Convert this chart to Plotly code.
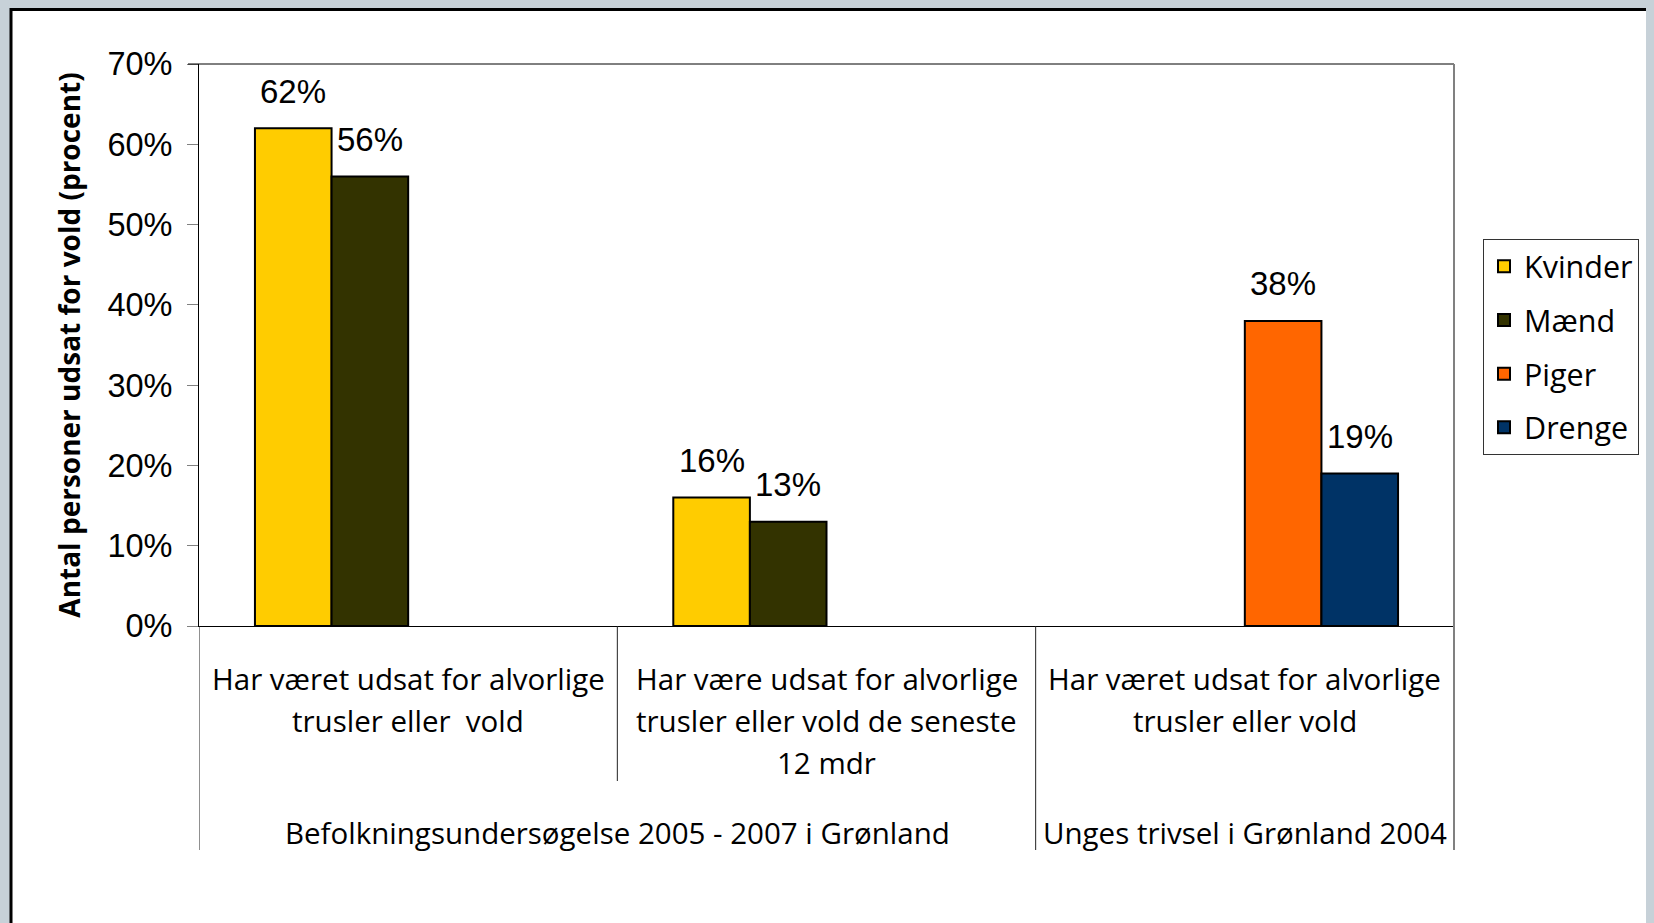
import plotly.graph_objects as go

# ---------------- data ----------------
categories = [
    "Har været udsat for alvorlige<br>trusler eller  vold",
    "Har være udsat for alvorlige<br>trusler eller vold de seneste<br>12 mdr",
    "Har været udsat for alvorlige<br>trusler eller vold",
]
groups = [
    "Befolkningsundersøgelse 2005 - 2007 i Grønland",
    "Befolkningsundersøgelse 2005 - 2007 i Grønland",
    "Unges trivsel i Grønland 2004",
]
series_names = ["Kvinder", "Mænd", "Piger", "Drenge"]
kvinder = [0.62, 0.16, None]
maend = [0.56, 0.13, None]
piger = [None, None, 0.38]
drenge = [None, None, 0.19]
series_values = [kvinder, maend, piger, drenge]
series_colors = ["#FFCC00", "#333300", "#FF6600", "#003366"]
y_tickvals = [0, 0.1, 0.2, 0.3, 0.4, 0.5, 0.6, 0.7]
y_ticktext = ["0%", "10%", "20%", "30%", "40%", "50%", "60%", "70%"]
y_title = "Antal personer udsat for vold (procent)"

# ---------------- layout constants (pixels, page coordinates) ----------------
BG = "#C7D1D8"
OFF = 8                      # default body margin of the html page
PAGE_W, PAGE_H = 1654, 923
W, H = PAGE_W - OFF, PAGE_H - OFF
PL, PR, PT, PB = 199, 1454, 64, 626   # plot area in page pixels
L, T = PL - OFF, PT - OFF
R, B = W - (PR - OFF), H - (PB - OFF)
PW, PH = PR - PL, PB - PT
BARGAP = 0.2675

def pxx(px):   # page pixel -> paper x
    return (px - PL) / PW

def pxy(py):   # page pixel -> paper y
    return (PB - py) / PH

label_font = "Open Sans, DejaVu Sans, sans-serif"
num_font = "Arial, Liberation Sans, sans-serif"

fig = go.Figure()
for name, vals, col in zip(series_names, series_values, series_colors):
    fig.add_trace(go.Bar(
        name=name, x=categories, y=vals, legendgroup=name,
        marker=dict(color=col, line=dict(color="#000000", width=2)),
        hoverinfo="skip",
    ))

# data labels above bars, placed through the data axes
n_series = len(series_names)
slot_px = PW / len(categories) * (1 - BARGAP) / n_series
annotations = []
for si, vals in enumerate(series_values):
    for ci, v in enumerate(vals):
        if v is None:
            continue
        annotations.append(dict(
            x=categories[ci], y=v, xref="x", yref="y",
            xshift=(si - (n_series - 1) / 2) * slot_px, yshift=37,
            text=f"{round(v * 100)}%", showarrow=False,
            yanchor="middle", xanchor="center",
            font=dict(family=num_font, size=33, color="#000000"),
        ))

# category labels (first level)
line_y0, line_step = 678, 42
for ci, cat in enumerate(categories):
    for j, line in enumerate(cat.split("<br>")):
        annotations.append(dict(
            x=ci, y=pxy(line_y0 + j * line_step), xref="x", yref="paper",
            text=line, showarrow=False, yanchor="middle", xanchor="center",
            font=dict(family=label_font, size=29.5, color="#000000"),
        ))

# group labels (second level)
uniq_groups = []
for ci, g in enumerate(groups):
    if not uniq_groups or uniq_groups[-1][0] != g:
        uniq_groups.append([g, ci, ci])
    else:
        uniq_groups[-1][2] = ci
for g, a, b in uniq_groups:
    annotations.append(dict(
        x=(a + b) / 2, y=pxy(832), xref="x", yref="paper",
        text=g, showarrow=False, yanchor="middle", xanchor="center",
        font=dict(family=label_font, size=29.5, color="#000000"),
    ))

shapes = []
# white panel with black border on grey background
shapes.append(dict(type="rect", xref="paper", yref="paper",
                   x0=pxx(11), x1=pxx(PAGE_W + 20), y0=pxy(PAGE_H + 20), y1=pxy(9.5),
                   fillcolor="#FFFFFF", line=dict(color="#000000", width=3),
                   layer="below"))
# plot frame: top line and right grey line
shapes.append(dict(type="line", xref="paper", yref="paper",
                   x0=pxx(188), x1=1, y0=1, y1=1,
                   line=dict(color="#000000", width=1)))
shapes.append(dict(type="line", xref="paper", yref="paper",
                   x0=1, x1=1, y0=1, y1=pxy(850),
                   line=dict(color="#808080", width=2)))
# category dividers below the axis
n_cat = len(categories)
for k in range(n_cat):
    xb = k - 0.5
    if k == 0 or groups[k - 1] != groups[k]:
        yb = pxy(850)
    else:
        yb = pxy(781)
    shapes.append(dict(type="line", xref="x", yref="paper",
                       x0=xb, x1=xb, y0=0, y1=yb,
                       line=dict(color="#222222", width=1)))

fig.update_layout(
    width=W, height=H,
    margin=dict(l=L, r=R, t=T, b=B, autoexpand=False),
    paper_bgcolor=BG,
    plot_bgcolor="rgba(0,0,0,0)",
    barmode="group", bargap=BARGAP, bargroupgap=0,
    showlegend=True,
    legend=dict(
        x=pxx(1483), y=pxy(239), xanchor="left", yanchor="top",
        bgcolor="#FFFFFF", bordercolor="#333333", borderwidth=1,
        font=dict(family=label_font, size=30.5, color="#000000"),
        tracegroupgap=11, itemwidth=30, traceorder="grouped",
        entrywidth=128, entrywidthmode="pixels",
    ),
    xaxis=dict(
        type="category", range=[-0.5, 2.5], showticklabels=False,
        ticks="", showline=True, linecolor="#000000", linewidth=1,
        showgrid=False, zeroline=False, fixedrange=True,
    ),
    yaxis=dict(
        range=[0, 0.7], tickvals=y_tickvals, ticktext=y_ticktext,
        ticks="outside", ticklen=11, tickcolor="#808080", tickwidth=1,
        showline=True, linecolor="#000000", linewidth=1,
        showgrid=False, zeroline=False,
        tickfont=dict(family=num_font, size=32.5, color="#000000"),
        ticklabelstandoff=8,
        title=dict(text="<b>" + y_title + "</b>", standoff=18,
                   font=dict(family=label_font, size=28, color="#000000")),
    ),
    annotations=annotations,
    shapes=shapes,
)

fig.write_html(
    "out.html",
    post_script=f"document.body.style.background = '{BG}';",
)
